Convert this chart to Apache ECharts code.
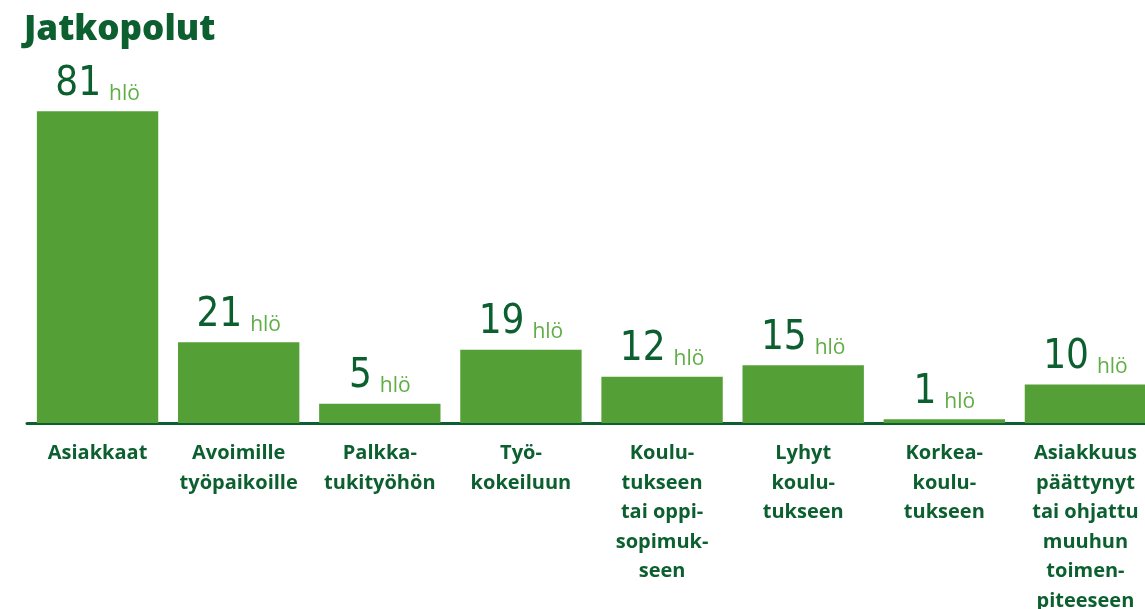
<!DOCTYPE html>
<html>
<head>
<meta charset="utf-8">
<style>
  html, body { margin: 0; padding: 0; background: #fff; }
  #chart { width: 1145px; height: 609px; }
</style>
<script src="https://cdn.jsdelivr.net/npm/echarts@6/dist/echarts.min.js"></script>
</head>
<body>
<div id="chart"></div>
<script>
const categories = [
  'Asiakkaat',
  'Avoimille\ntyöpaikoille',
  'Palkka-\ntukityöhön',
  'Työ-\nkokeiluun',
  'Koulu-\ntukseen\ntai oppi-\nsopimuk-\nseen',
  'Lyhyt\nkoulu-\ntukseen',
  'Korkea-\nkoulu-\ntukseen',
  'Asiakkuus\npäättynyt\ntai ohjattu\nmuuhun\ntoimen-\npiteeseen'
]
const persons = [81, 21, 5, 19, 12, 15, 1, 10]
const unit = 'hlö'

const darkGreen = '#0c5f2f'
const barGreen = '#55a036'
const lightGreen = '#5fae45'

const chart = echarts.init(document.getElementById('chart'))

chart.setOption({
  animation: false,
  title: {
    text: 'Jatkopolut',
    left: 19,
    top: 8,
    textStyle: { fontFamily: 'Open Sans', fontWeight: 800, fontSize: 35, color: darkGreen }
  },
  grid: { left: 27, right: -11, top: 38, bottom: 186, outerBoundsMode: 'none', containLabel: false },
  xAxis: {
    type: 'category',
    data: categories,
    axisLine: { lineStyle: { color: darkGreen, width: 3 } },
    axisTick: { show: false },
    axisLabel: {
      interval: 0,
      margin: 16,
      color: darkGreen,
      fontFamily: 'Open Sans',
      fontWeight: 'bold',
      fontSize: 20,
      lineHeight: 29.5
    }
  },
  yAxis: { type: 'value', min: 0, max: 100, show: false, splitLine: { show: false } },
  series: [{
    type: 'bar',
    data: persons,
    barCategoryGap: '14%',
    itemStyle: { color: barGreen },
    label: {
      show: true,
      position: 'top',
      distance: 7,
      formatter: p => '{n|' + p.value + '}{u|' + unit + '}',
      rich: {
        n: { fontFamily: 'DejaVu Sans Condensed', fontSize: 40, color: darkGreen, lineHeight: 40, verticalAlign: 'bottom' },
        u: { fontFamily: 'Open Sans', fontSize: 21, color: lightGreen, lineHeight: 40, verticalAlign: 'bottom', padding: [0, 0, 0, 8] }
      }
    }
  }]
})
</script>
</body>
</html>
